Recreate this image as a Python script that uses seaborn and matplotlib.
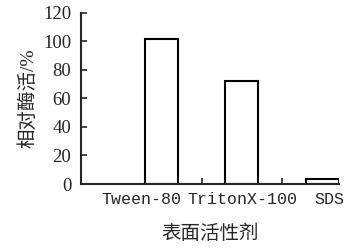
import matplotlib
matplotlib.use("Agg")
import matplotlib.pyplot as plt
import matplotlib.transforms as mtransforms
import seaborn as sns
import pandas as pd

categories = ["Tween-80", "TritonX-100", "SDS"]
activity = [101.5, 72.0, 3.3]
yticks = [0, 20, 40, 60, 80, 100, 120]

sns.set_style("ticks")
plt.rcParams['font.family'] = ['Liberation Serif', 'Noto Sans CJK SC']

df = pd.DataFrame({"cat": categories, "val": activity})

fig = plt.figure(figsize=(3.48, 2.48), dpi=100)
ax = fig.add_axes([0.233, 0.258, 0.741, 0.69])
sns.barplot(data=df, x="cat", y="val", ax=ax, color="white", edgecolor="black",
            linewidth=1.5, width=0.41, saturation=1)

ax.set_xlim(-1.0, 2.21)
ax.set_ylim(0, 120)
ax.set_yticks(yticks)
ax.set_yticklabels([str(t) for t in yticks], fontsize=13.5)
ax.set_xticks([0, 1, 2])
ax.set_xticklabels(categories, fontsize=12, family=['Liberation Mono', 'Noto Sans CJK SC'])
ax.tick_params(axis='x', length=0, pad=6)
ax.set_xticks([0.5, 1.5], minor=True)
ax.tick_params(axis='x', which='minor', direction='in', length=4, width=1.2)
ax.tick_params(axis='y', direction='in', length=4, width=1.2, pad=7)

# shift category labels like the reference to avoid overlap
shifts_px = [-20, 1, 7]
for lab, dx in zip(ax.get_xticklabels(), shifts_px):
    lab.set_transform(lab.get_transform() +
                      mtransforms.ScaledTranslation(dx / 100, 0, fig.dpi_scale_trans))

for s in ['top', 'right']:
    ax.spines[s].set_visible(False)
for s in ['left', 'bottom']:
    ax.spines[s].set_linewidth(1.5)
ax.set_ylabel("相对酶活/%", fontsize=14, labelpad=4)
ax.set_xlabel("表面活性剂", fontsize=14, labelpad=12)

fig.savefig("out.png", dpi=100)
